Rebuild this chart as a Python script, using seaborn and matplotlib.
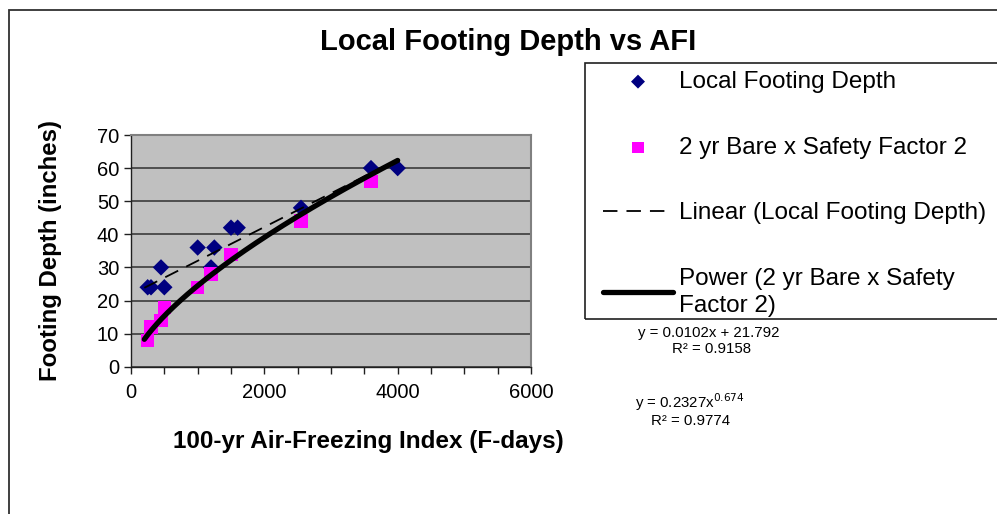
import numpy as np
import pandas as pd
import matplotlib
matplotlib.use("Agg")
import matplotlib.pyplot as plt
from matplotlib.patches import Rectangle
from matplotlib.ticker import MultipleLocator
import seaborn as sns

#%% Data

# Local footing depth (diamonds)
local_afi = [250, 300, 450, 500, 1000, 1200, 1250, 1500, 1600, 2550, 3600, 4000]
local_depth = [24, 24, 30, 24, 36, 30, 36, 42, 42, 48, 60, 60]

# 2 yr bare x safety factor 2 (squares)
bare_afi = [250, 300, 450, 500, 1000, 1200, 1500, 2550, 3600]
bare_depth = [8, 12, 14, 18, 24, 28, 34, 44, 56]

# Excel trendline coefficients as printed on the chart
lin_slope, lin_icpt = 0.0102, 21.792
pow_coef, pow_exp = 0.2327, 0.674
trend_range = [200, 4000]

labels = ["Local Footing Depth", "2 yr Bare x Safety Factor 2",
          "Linear (Local Footing Depth)", "Power (2 yr Bare x Safety\nFactor 2)"]

#%% Build frames

local = pd.DataFrame({"afi": local_afi, "depth": local_depth})
bare = pd.DataFrame({"afi": bare_afi, "depth": bare_depth})

xs = np.linspace(trend_range[0], trend_range[1], 200)
lin = pd.DataFrame({"afi": xs, "depth": lin_slope * xs + lin_icpt})
pw = pd.DataFrame({"afi": xs, "depth": pow_coef * xs ** pow_exp})

#%% Plot

sns.set_style("white")
plt.rcParams["font.family"] = ["Liberation Sans", "DejaVu Sans"]
plt.rcParams["text.color"] = "black"
plt.rcParams["axes.labelcolor"] = "black"
plt.rcParams["xtick.color"] = "black"
plt.rcParams["ytick.color"] = "black"

fig = plt.figure(figsize=(9.97, 5.14), dpi=100)
ax = fig.add_axes([131 / 997, 1 - 366.7 / 514, 400 / 997, 231.7 / 514])
ax.set_facecolor("#C0C0C0")

sns.scatterplot(data=local, x="afi", y="depth", ax=ax, marker="D", s=70,
                color="#000080", edgecolor="none", label=labels[0], zorder=3)
sns.scatterplot(data=bare, x="afi", y="depth", ax=ax, marker="s", s=90,
                color="#FF00FF", edgecolor="none", label=labels[1], zorder=4)
sns.lineplot(data=lin, x="afi", y="depth", ax=ax, color="black", lw=1.3,
             label=labels[2], zorder=5)
ax.lines[-1].set_linestyle((0, (8, 5)))
sns.lineplot(data=pw, x="afi", y="depth", ax=ax, color="black", lw=3.8,
             label=labels[3], zorder=6, solid_capstyle="round")

ax.set_xlim(0, 6000)
ax.set_ylim(0, 70)
ax.xaxis.set_major_locator(MultipleLocator(2000))
ax.xaxis.set_minor_locator(MultipleLocator(500))
ax.yaxis.set_major_locator(MultipleLocator(10))
ax.grid(axis="y", color="#303030", lw=1.1)
ax.set_axisbelow(True)
ax.tick_params(axis="both", which="both", direction="out", length=5,
               width=1, color="#202020", labelcolor="black", labelsize=14.5,
               left=True, bottom=True)
ax.tick_params(axis="x", pad=7)
for side in ["top", "right"]:
    ax.spines[side].set_color("#808080")
    ax.spines[side].set_linewidth(1.5)
for side in ["left", "bottom"]:
    ax.spines[side].set_color("#202020")
    ax.spines[side].set_linewidth(1)

ax.set_xlabel("100-yr Air-Freezing Index (F-days)", fontsize=17.5, fontweight="bold")
ax.set_ylabel("Footing Depth (inches)", fontsize=17.3, fontweight="bold")
ax.xaxis.set_label_coords((368 - 131) / 400, -0.275)
ax.yaxis.set_label_coords(-0.172, 0.5)

fig.text(508 / 997, 1 - 42 / 514, "Local Footing Depth vs AFI", ha="center",
         va="center", fontsize=21, fontweight="bold")

# legend
handles, labs = ax.get_legend_handles_labels()
leg = ax.legend(handles, labs, loc="upper left", frameon=False,
                bbox_to_anchor=(603 / 997, 1 - 71 / 514), bbox_transform=fig.transFigure,
                fontsize=17.5, handlelength=2.88, handletextpad=0.25, labelspacing=1.79,
                borderpad=0, borderaxespad=0, markerscale=0.85)
for t in leg.get_texts():
    t.set_linespacing(1.3)
fig.patches.append(Rectangle((585 / 997, 1 - 319 / 514), 0.5, 256 / 514,
                             transform=fig.transFigure, fill=False,
                             ec="#202020", lw=1.2))
# outer chart border
fig.patches.append(Rectangle((9 / 997, -0.2), 1.1, 1.2 - 10 / 514,
                             transform=fig.transFigure, fill=False,
                             ec="#303030", lw=1.3))

# trendline equations
fig.text(709 / 997, 1 - 333 / 514, "y = 0.0102x + 21.792",
         ha="center", va="center", fontsize=10.8)
fig.text(711 / 997, 1 - 349 / 514, "R² = 0.9158",
         ha="center", va="center", fontsize=10.8)
fig.text(690 / 997, 1 - 402 / 514, "y = 0.2327x$^{0.674}$",
         ha="center", va="center", fontsize=10.8)
fig.text(691 / 997, 1 - 421 / 514, "R² = 0.9774",
         ha="center", va="center", fontsize=10.8)

fig.savefig("out.png", dpi=100)
